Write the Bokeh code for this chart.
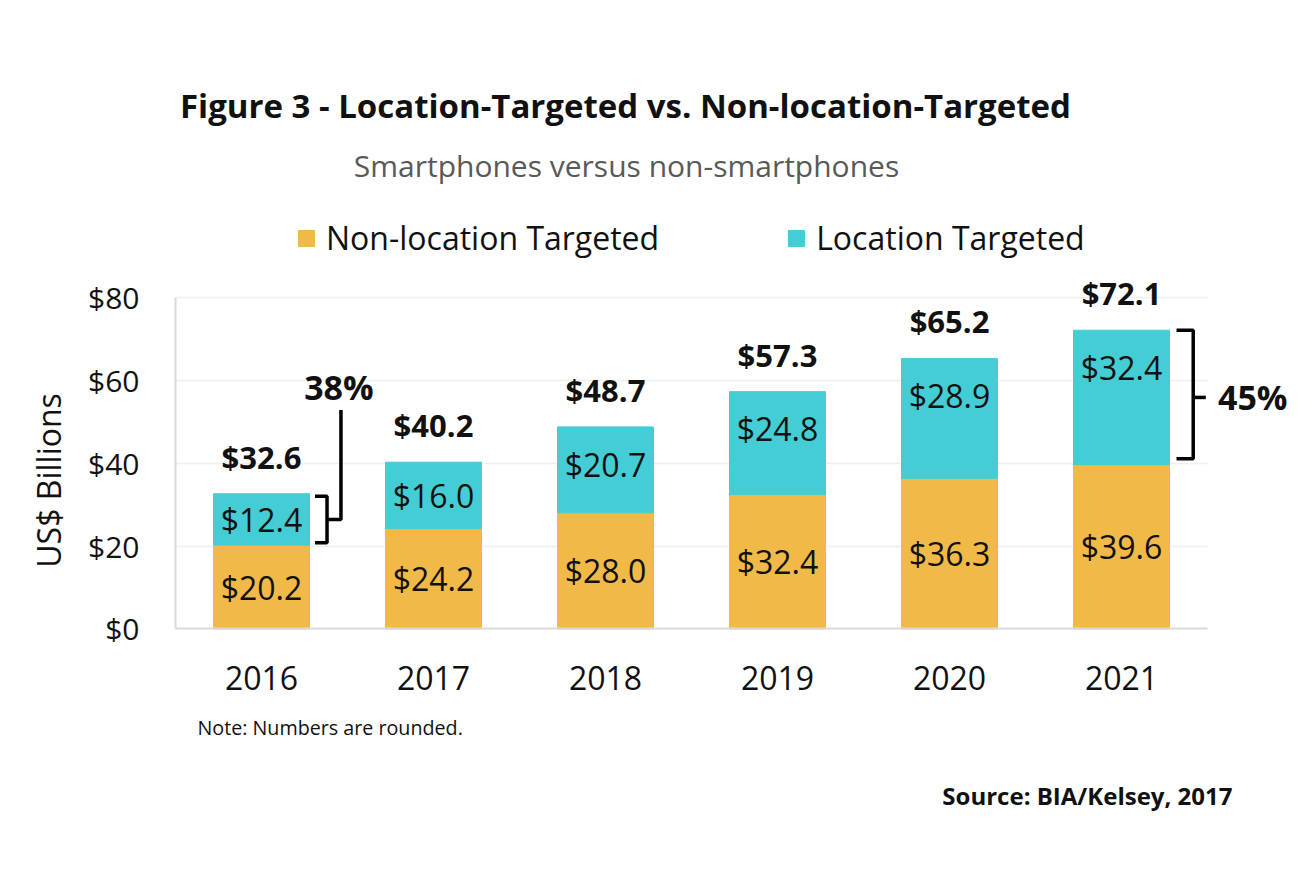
import math
from bokeh.plotting import figure
from bokeh.models import ColumnDataSource, Label, FixedTicker, Range1d
from bokeh.core.properties import value
from bokeh.embed import file_html
from bokeh.resources import INLINE

# ---------------- data ----------------
years = ["2016", "2017", "2018", "2019", "2020", "2021"]
non_location = [20.2, 24.2, 28.0, 32.4, 36.3, 39.6]
location = [12.4, 16.0, 20.7, 24.8, 28.9, 32.4]
totals = [32.6, 40.2, 48.7, 57.3, 65.2, 72.1]
y_ticks = [0, 20, 40, 60, 80]
y_tick_labels = ["$0", "$20", "$40", "$60", "$80"]
share_years = ["2016", "2021"]
share_labels = ["38%", "45%"]
series_names = ["Non-location Targeted", "Location Targeted"]

title_text = "Figure 3 - Location-Targeted vs. Non-location-Targeted"
subtitle_text = "Smartphones versus non-smartphones"
y_label_text = "US$ Billions"
note_text = "Note: Numbers are rounded."
source_text = "Source: BIA/Kelsey, 2017"

# ---------------- style ----------------
FONT = "Open Sans"
YELLOW = "#F1B947"
CYAN = "#44CDD5"
INK = "#111111"
GRID = "#EFEFEF"
W, H = 1313, 875

x_idx = list(range(len(years)))
x_lo, x_hi = -0.5, len(years) - 0.5

# frame covers the whole page; axes are pinned inside it
p = figure(width=W, height=H, output_backend="svg", toolbar_location=None,
           x_range=Range1d(-1.5174, 6.1163), y_range=Range1d(-59.40, 151.45),
           min_border=0)
p.outline_line_color = None
p.background_fill_color = "white"
p.border_fill_color = "white"

# axes
p.xaxis.fixed_location = 0
p.yaxis.fixed_location = x_lo
p.xaxis.ticker = FixedTicker(ticks=x_idx)
p.xaxis.major_label_overrides = {i: y for i, y in zip(x_idx, years)}
p.xaxis.bounds = (x_lo, x_hi)
p.yaxis.ticker = FixedTicker(ticks=y_ticks)
p.yaxis.major_label_overrides = {t: l for t, l in zip(y_ticks, y_tick_labels)}
p.yaxis.bounds = (y_ticks[0], y_ticks[-1])
for ax in (p.xaxis[0], p.yaxis[0]):
    ax.axis_line_color = "#D9D9D9"
    ax.axis_line_width = 2
    ax.major_tick_line_color = None
    ax.minor_tick_line_color = None
    ax.major_tick_in = 0
    ax.major_tick_out = 0
    ax.major_label_text_font = FONT
    ax.major_label_text_color = INK
p.xaxis.major_label_text_font_size = "32px"
p.xaxis.major_label_standoff = 37
p.yaxis.major_label_text_font_size = "30px"
p.yaxis.major_label_standoff = 36

p.xgrid.visible = False
grid = p.ygrid[0]
grid.ticker = FixedTicker(ticks=y_ticks[1:])
grid.grid_line_color = GRID
grid.grid_line_width = 1.5
try:
    grid.cross_bounds = (x_lo, x_hi)
except Exception:
    grid.visible = False
    gt = y_ticks[1:]
    p.segment(x0=[x_lo] * len(gt), x1=[x_hi] * len(gt), y0=gt, y1=gt,
              line_color=GRID, line_width=1.5, level="underlay")

# bars
src = ColumnDataSource(dict(x=x_idx, non=non_location, loc=location))
p.vbar_stack(["non", "loc"], x="x", width=0.558, source=src,
             fill_color=[YELLOW, CYAN], line_color=[YELLOW, CYAN],
             legend_label=series_names)

# value labels
tops = [n + l for n, l in zip(non_location, location)]
lab_src = ColumnDataSource(dict(
    x=x_idx,
    y_non=[n / 2 for n in non_location],
    t_non=["$%.1f" % v for v in non_location],
    y_loc=[max((n + t) / 2, t - 9.0) for n, t in zip(non_location, tops)],
    t_loc=["$%.1f" % v for v in location],
    y_tot=[t + 8.9 for t in tops],
    t_tot=["$%.1f" % v for v in totals],
))
common = dict(source=lab_src, text_font=value(FONT), text_align="center",
              text_baseline="middle", text_color=INK)
p.text(x="x", y="y_non", text="t_non", text_font_size="32px", **common)
p.text(x="x", y="y_loc", text="t_loc", text_font_size="32px", **common)
p.text(x="x", y="y_tot", text="t_tot", text_font_size="31px",
       text_font_style="bold", **common)

# share brackets
i0 = years.index(share_years[0])
i1 = years.index(share_years[1])
inset = 0.6
b0_lo, b0_hi = non_location[i0] + inset, tops[i0] - inset
b0_mid = (non_location[i0] + tops[i0]) / 2
b1_lo, b1_hi = non_location[i1] + 1.4, tops[i1]
b1_mid = (non_location[i1] + tops[i1]) / 2
lbl0_y = tops[i0] + 25.6
xs = [
    [i0 + 0.311, i0 + 0.381, i0 + 0.381, i0 + 0.311],
    [i0 + 0.381, i0 + 0.462, i0 + 0.462],
    [i1 + 0.320, i1 + 0.417, i1 + 0.417, i1 + 0.320],
    [i1 + 0.417, i1 + 0.490],
]
ys = [
    [b0_hi, b0_hi, b0_lo, b0_lo],
    [b0_mid, b0_mid, lbl0_y - 5.4],
    [b1_hi, b1_hi, b1_lo, b1_lo],
    [b1_mid, b1_mid],
]
p.multi_line(xs=xs, ys=ys, line_color="black", line_width=3.5)

def lab(text, x, y, size, bold=False, color=INK, align="center", angle=0.0):
    p.add_layout(Label(x=x, y=y, text=text, text_font=FONT,
                       text_font_size=size,
                       text_font_style="bold" if bold else "normal",
                       text_color=color, text_align=align,
                       text_baseline="middle", angle=angle))

lab(share_labels[0], i0 + 0.45, lbl0_y, "34px", bold=True)
lab(share_labels[1], i1 + 0.763, b1_mid, "34px", bold=True)

# page texts (positions in data space of the plot scales)
lab(title_text, 2.116, 126.1, "33px", bold=True)
lab(subtitle_text, 2.122, 111.7, "30px", color="#595959")
lab(y_label_text, -1.238, 35.8, "32px", angle=math.pi / 2)
lab(note_text, -0.372, -23.66, "19.7px", align="left")
lab(source_text, 5.645, -40.1, "24px", bold=True, align="right")

# legend
lg = p.legend[0]
lg.orientation = "horizontal"
lg.location = (296, 616)
lg.label_text_font = FONT
lg.label_text_font_size = "32px"
lg.label_text_color = INK
lg.glyph_width = 20
lg.glyph_height = 20
lg.label_standoff = 10
lg.spacing = 127
lg.padding = 0
lg.margin = 0
lg.border_line_color = None
lg.background_fill_alpha = 0

open("out.html", "w").write(file_html(p, INLINE))
